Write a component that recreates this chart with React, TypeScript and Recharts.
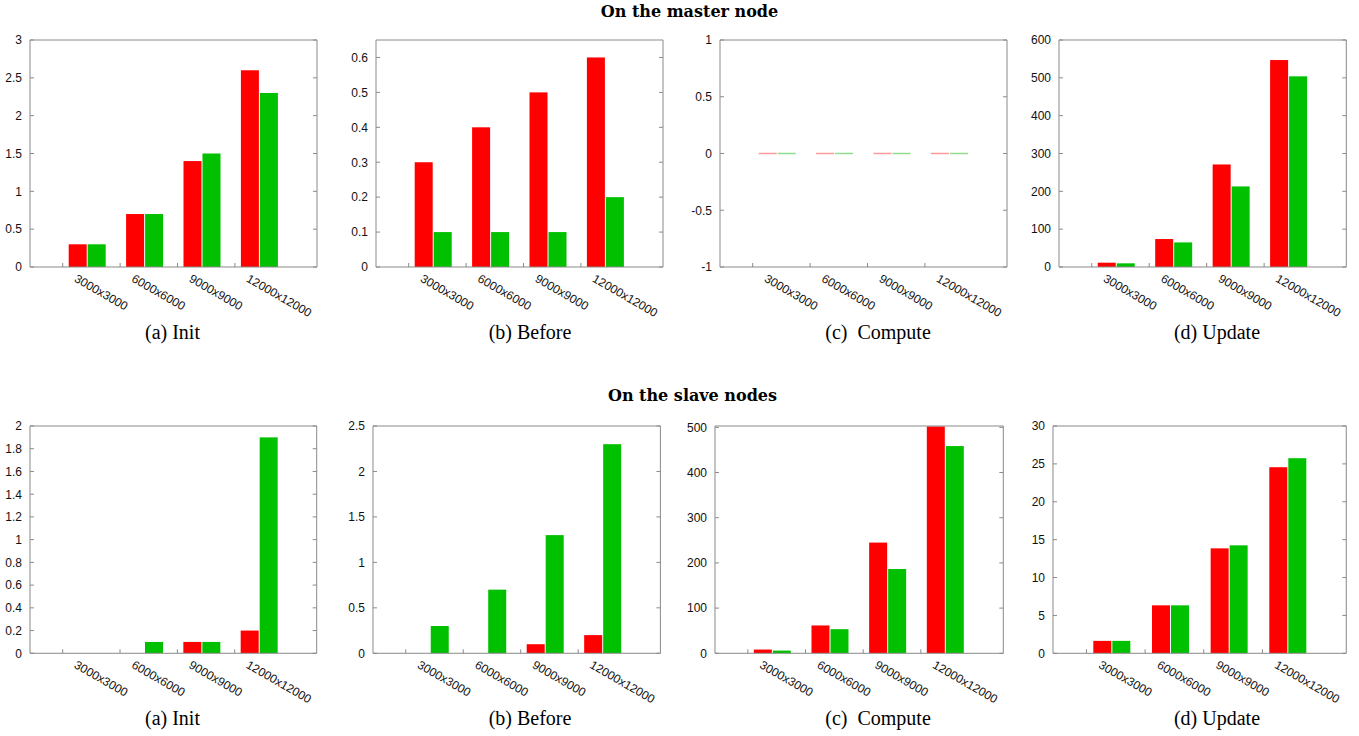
import React from 'react';
import { BarChart, Bar, XAxis, YAxis } from 'recharts';

// ---------- data ----------
const categories = ['3000x3000', '6000x6000', '9000x9000', '12000x12000'];

const masterInitRed = [0.3, 0.7, 1.4, 2.6];
const masterInitGreen = [0.3, 0.7, 1.5, 2.3];
const masterBeforeRed = [0.3, 0.4, 0.5, 0.6];
const masterBeforeGreen = [0.1, 0.1, 0.1, 0.2];
const masterComputeRed = [0, 0, 0, 0];
const masterComputeGreen = [0, 0, 0, 0];
const masterUpdateRed = [11.4, 73.9, 271, 547];
const masterUpdateGreen = [9.7, 65, 213, 504];

const slaveInitRed = [0, 0, 0.1, 0.2];
const slaveInitGreen = [0, 0.1, 0.1, 1.9];
const slaveBeforeRed = [0, 0, 0.1, 0.2];
const slaveBeforeGreen = [0.3, 0.7, 1.3, 2.3];
const slaveComputeRed = [8.3, 61.6, 245, 502];
const slaveComputeGreen = [6, 53.4, 186.5, 458.6];
const slaveUpdateRed = [1.64, 6.33, 13.85, 24.56];
const slaveUpdateGreen = [1.64, 6.33, 14.25, 25.75];

const ticksInitMaster = [0, 0.5, 1, 1.5, 2, 2.5, 3];
const ticksBeforeMaster = [0, 0.1, 0.2, 0.3, 0.4, 0.5, 0.6];
const ticksComputeMaster = [-1, -0.5, 0, 0.5, 1];
const ticksUpdateMaster = [0, 100, 200, 300, 400, 500, 600];
const ticksInitSlave = [0, 0.2, 0.4, 0.6, 0.8, 1, 1.2, 1.4, 1.6, 1.8, 2];
const ticksBeforeSlave = [0, 0.5, 1, 1.5, 2, 2.5];
const ticksComputeSlave = [0, 100, 200, 300, 400, 500];
const ticksUpdateSlave = [0, 5, 10, 15, 20, 25, 30];

const titleMaster = 'On the master node';
const titleSlave = 'On the slave nodes';
const captions = ['(a) Init', '(b) Before', '(c)  Compute', '(d) Update'];

// ---------- styles ----------
const RED = '#ff0000';
const GREEN = '#00c000';
const RED_LIGHT = '#ff9a9a';
const GREEN_LIGHT = '#8fdc8f';
const FRAME = '#8a8a8a';
const SANS = '"Liberation Sans", Arial, Helvetica, sans-serif';
const SERIF = '"Liberation Serif", "Times New Roman", serif';
const TITLE_FONT = '"DejaVu Serif", serif';

const build = (red: number[], green: number[]) =>
  categories.map((name, i) => ({ name, red: red[i], green: green[i] }));

type Box = { left: number; top: number; w: number; h: number };

type PanelDef = {
  red: number[];
  green: number[];
  domain: [number, number];
  ticks: number[];
  box: Box;
  zeroLine?: boolean;
};

const panels: PanelDef[] = [
  { red: masterInitRed, green: masterInitGreen, domain: [0, 3], ticks: ticksInitMaster, box: { left: 30, top: 39.5, w: 287, h: 227 } },
  { red: masterBeforeRed, green: masterBeforeGreen, domain: [0, 0.65], ticks: ticksBeforeMaster, box: { left: 376, top: 39.5, w: 287, h: 227 } },
  { red: masterComputeRed, green: masterComputeGreen, domain: [-1, 1], ticks: ticksComputeMaster, box: { left: 719.5, top: 39.5, w: 287, h: 227 }, zeroLine: true },
  { red: masterUpdateRed, green: masterUpdateGreen, domain: [0, 600], ticks: ticksUpdateMaster, box: { left: 1059, top: 39.5, w: 287.3, h: 227 } },
  { red: slaveInitRed, green: slaveInitGreen, domain: [0, 2], ticks: ticksInitSlave, box: { left: 30, top: 426, w: 286.7, h: 227.3 } },
  { red: slaveBeforeRed, green: slaveBeforeGreen, domain: [0, 2.5], ticks: ticksBeforeSlave, box: { left: 373.3, top: 426, w: 287.4, h: 227.3 } },
  { red: slaveComputeRed, green: slaveComputeGreen, domain: [0, 503], ticks: ticksComputeSlave, box: { left: 715, top: 426, w: 288.3, h: 227.3 } },
  { red: slaveUpdateRed, green: slaveUpdateGreen, domain: [0, 30], ticks: ticksUpdateSlave, box: { left: 1053, top: 426, w: 293.3, h: 227.3 } },
];

const captionPos = [
  { x: 172.5, y: 339 },
  { x: 530, y: 339 },
  { x: 878, y: 339 },
  { x: 1217, y: 339 },
  { x: 172.5, y: 725 },
  { x: 530, y: 725 },
  { x: 878, y: 725 },
  { x: 1217, y: 725 },
];

const Y_AXIS_W = 40;
const TOP_AXIS_H = 1;
const RIGHT_AXIS_W = 1;
const TOP_M = 9;
const RIGHT_M = 19;
const X_AXIS_H = 70;

const LeftTick = (props: any) => {
  const { x, y, payload } = props;
  return (
    <g>
      <line x1={x} x2={x + 4} y1={y} y2={y} stroke={FRAME} />
      <text x={x - 8} y={y} dy="0.36em" textAnchor="end" fontSize={12} fontFamily={SANS} fill="#111">
        {String(payload.value)}
      </text>
    </g>
  );
};

const RightTick = (props: any) => {
  const { x, y } = props;
  return <line x1={x - 4} x2={x} y1={y} y2={y} stroke={FRAME} />;
};

const makeXTick = (band: number) => (props: any) => {
  const { x, y, payload } = props;
  const mx = x - 0.43 * band;
  const tx = x - 14;
  const ty = y + 14;
  return (
    <g>
      <line x1={mx} x2={mx} y1={y} y2={y - 4} stroke={FRAME} />
      <text x={tx} y={ty} transform={`rotate(30, ${tx}, ${ty})`} textAnchor="start" fontSize={12} fontFamily={SANS} fill="#111">
        {payload.value}
      </text>
    </g>
  );
};

const makeShape = (zeroLine: boolean, light: string) => (props: any) => {
  const { x, y, width, height, fill } = props;
  if (!height || Math.abs(height) < 0.01) {
    return zeroLine ? (
      <line x1={x} x2={x + width} y1={y} y2={y} stroke={light} strokeWidth={1.5} />
    ) : (
      <g />
    );
  }
  const ry = height < 0 ? y + height : y;
  return <rect x={x} y={ry} width={width} height={Math.abs(height)} fill={fill} />;
};

const Panel = ({ def }: { def: PanelDef }) => {
  const { box } = def;
  const chartW = box.w + Y_AXIS_W + RIGHT_AXIS_W + RIGHT_M;
  const chartH = box.h + TOP_M + TOP_AXIS_H + X_AXIS_H;
  const band = box.w / 5;
  const data = build(def.red, def.green);
  return (
    <div style={{ position: 'absolute', left: box.left - Y_AXIS_W, top: box.top - TOP_M - TOP_AXIS_H }}>
      <BarChart
        width={chartW}
        height={chartH}
        data={data}
        margin={{ top: TOP_M, right: RIGHT_M, bottom: 0, left: 0 }}
        barGap={1}
      >
        <XAxis
          dataKey="name"
          padding={{ left: box.w / 10, right: box.w / 10 }}
          tick={makeXTick(band)}
          tickLine={false}
          tickSize={0}
          tickMargin={0}
          height={X_AXIS_H}
          interval={0}
          axisLine={{ stroke: FRAME }}
        />
        <XAxis
          xAxisId="top"
          orientation="top"
          dataKey="name"
          height={TOP_AXIS_H}
          tick={false}
          tickLine={false}
          axisLine={{ stroke: FRAME }}
        />
        <YAxis
          type="number"
          domain={def.domain}
          ticks={def.ticks}
          width={Y_AXIS_W}
          tick={<LeftTick />}
          tickLine={false}
          tickSize={0}
          tickMargin={0}
          interval={0}
          allowDataOverflow
          axisLine={{ stroke: FRAME }}
        />
        <YAxis
          yAxisId="r"
          orientation="right"
          type="number"
          domain={def.domain}
          ticks={def.ticks}
          width={RIGHT_AXIS_W}
          tick={<RightTick />}
          tickLine={false}
          tickSize={0}
          tickMargin={0}
          interval={0}
          allowDataOverflow
          axisLine={{ stroke: FRAME }}
        />
        <Bar dataKey="red" fill={RED} barSize={18} isAnimationActive={false} shape={makeShape(!!def.zeroLine, RED_LIGHT)} />
        <Bar dataKey="green" fill={GREEN} barSize={18} isAnimationActive={false} shape={makeShape(!!def.zeroLine, GREEN_LIGHT)} />
      </BarChart>
    </div>
  );
};

export default function App() {
  return (
    <div style={{ position: 'absolute', left: 0, top: 0, width: 1359, height: 736, background: '#fff' }}>
      <svg width={1359} height={736} style={{ position: 'absolute', left: 0, top: 0 }}>
        <text x={689.5} y={16.7} textAnchor="middle" fontFamily={TITLE_FONT} fontWeight="bold" fontSize={16} fill="#000">
          {titleMaster}
        </text>
        <text x={692.5} y={400.5} textAnchor="middle" fontFamily={TITLE_FONT} fontWeight="bold" fontSize={16} fill="#000">
          {titleSlave}
        </text>
        {captionPos.map((p, i) => (
          <text key={i} x={p.x} y={p.y} textAnchor="middle" fontFamily={SERIF} fontSize={20} fill="#000" style={{ whiteSpace: 'pre' }}>
            {captions[i % 4]}
          </text>
        ))}
      </svg>
      {panels.map((p, i) => (
        <Panel key={i} def={p} />
      ))}
    </div>
  );
}
